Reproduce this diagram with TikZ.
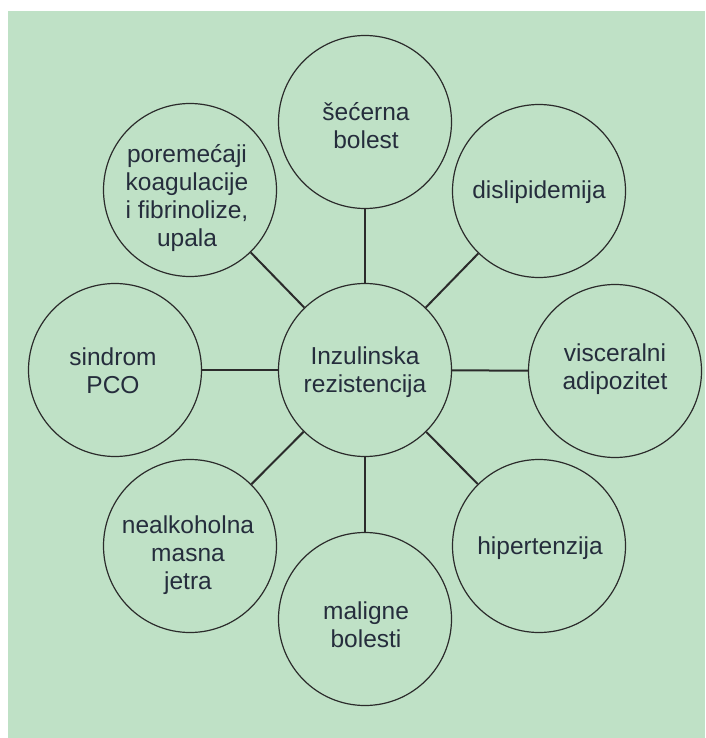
\documentclass[tikz,border=0pt]{standalone}
\usepackage{fontspec}
\setmainfont{Liberation Sans}
\definecolor{bggreen}{HTML}{BFE1C6}
\definecolor{txtcol}{HTML}{252D3C}
\definecolor{linecol}{HTML}{2B2B2B}
\begin{document}
\begin{tikzpicture}[x=1pt,y=-1pt,
  bubble/.style={circle,draw=linecol,line width=1.2pt,minimum size=173pt,inner sep=0pt},
  lbl/.style={align=center,text=txtcol,font=\fontsize{24.5}{28}\selectfont,inner sep=0pt},
  conn/.style={draw=linecol,line width=2pt}]
\useasboundingbox (0,0) rectangle (705,738);
\fill[white] (0,0) rectangle (705,738);
\fill[bggreen] (8,11) rectangle (705,738);
% circles
\node[bubble] (ctr) at (365,370) {};
\node[bubble] (top) at (365,122) {};
\node[bubble] (tr)  at (539,191) {};
\node[bubble] (rt)  at (615,371) {};
\node[bubble] (br)  at (539,546) {};
\node[bubble] (bot) at (365,619) {};
\node[bubble] (bl)  at (190,546) {};
\node[bubble] (lf)  at (115,370) {};
\node[bubble] (tl)  at (190,190) {};
% labels
\node[lbl] (tctr) at (365,372) {Inzulinska\\rezistencija};
\node[lbl] (ttop) at (366,126) {šećerna\\bolest};
\node[lbl] (ttr)  at (539,192) {dislipidemija};
\node[lbl] (trt)  at (615,369) {visceralni\\adipozitet};
\node[lbl] (tbr)  at (540,548) {hipertenzija};
\node[lbl] (tbot) at (366,625) {maligne\\bolesti};
\node[lbl] (tbl)  at (188,555) {nealkoholna\\masna\\jetra};
\node[lbl] (tlf)  at (113,371) {sindrom\\PCO};
\node[lbl] (ttl)  at (187,198) {poremećaji\\koagulacije\\i fibrinolize,\\upala};
% connectors
\foreach \n in {top,tr,rt,br,bot,bl,lf,tl}
  \draw[conn] (ctr) -- (\n);
\end{tikzpicture}
\end{document}
